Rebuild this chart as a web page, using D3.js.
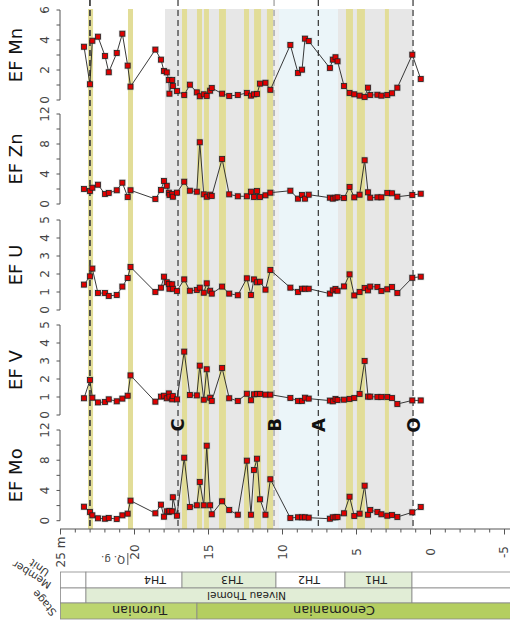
<!DOCTYPE html>
<html><head><meta charset="utf-8">
<script src="https://cdn.jsdelivr.net/npm/d3@7"></script>
<style>body{margin:0;background:#fff}svg{display:block;font-family:"DejaVu Sans",sans-serif}</style>
</head><body><svg id="c" width="510" height="623"></svg>
<script>
// ---- data ----
const depths = [23.41,23.01,22.85,22.47,21.99,21.74,21.20,20.82,20.46,20.27,
 18.59,18.21,18.01,17.82,17.68,17.64,17.45,17.41,17.13,16.64,
 16.26,15.79,15.59,15.32,15.12,14.89,14.78,14.08,13.60,13.02,
 12.41,12.13,11.93,11.72,11.52,11.15,10.82,9.47,8.95,8.68,
 8.48,8.23,6.80,6.60,6.42,6.28,5.84,5.47,5.15,4.79,
 4.45,4.22,4.07,3.59,3.32,2.92,2.60,2.24,1.23,0.66];
const efMn = [3.55,1.05,3.95,4.22,2.93,1.85,3.13,4.42,2.29,0.89,
 3.36,2.69,1.93,1.84,1.33,0.42,1.33,0.93,0.6,0.33,
 1.02,0.51,0.25,0.38,0.27,0.62,0.8,0.42,0.27,0.33,
 0.47,0.29,0.38,0.4,1.09,1.15,0.68,3.67,1.8,2.02,
 4.09,3.93,2.13,2.69,2.85,2.58,0.93,0.47,0.38,0.29,
 0.2,0.82,0.33,0.35,0.29,0.33,0.45,0.82,3.02,1.4];
const efZn = [2.0,1.73,2.17,2.57,1.33,1.47,1.83,2.84,0.93,1.83,
 0.67,1.87,3.07,2.43,1.51,1.2,1.33,0.97,1.51,2.97,
 1.77,1.64,8.23,1.29,0.97,1.24,1.07,6.0,1.29,1.03,
 1.03,1.64,0.93,1.73,0.93,1.16,1.51,1.77,0.71,1.2,
 0.71,1.24,0.84,0.71,0.84,0.89,0.8,2.27,0.89,1.24,
 5.83,1.56,0.84,0.89,0.89,1.47,1.43,0.97,1.2,1.37];
const efU = [1.41,1.87,2.3,0.94,0.94,0.78,0.83,1.3,1.78,2.39,
 1.0,1.24,1.85,1.54,1.44,1.18,1.43,1.18,1.06,1.7,
 1.07,1.11,1.24,0.96,1.48,1.07,0.91,1.3,0.91,0.82,
 1.76,0.83,1.7,1.54,1.57,1.13,2.22,1.24,1.0,1.18,
 1.18,1.18,0.91,1.09,1.17,1.07,1.31,1.98,0.81,1.0,
 1.22,1.09,1.3,1.28,1.06,1.15,1.28,0.94,1.79,1.85];
const efV = [0.93,1.94,0.96,0.7,0.72,0.87,0.76,0.91,1.07,2.2,
 0.74,1.02,1.07,0.93,1.2,1.02,0.87,1.05,0.87,3.52,
 1.11,1.09,2.74,0.85,2.54,0.96,0.78,2.61,0.93,0.78,
 1.18,0.82,1.15,1.17,1.17,1.13,1.13,0.94,0.78,0.78,
 0.96,0.91,0.8,0.76,0.89,0.83,0.85,0.89,0.94,1.17,
 3.0,1.02,1.02,1.0,1.0,1.0,0.94,0.61,0.81,0.81];
const efMo = [1.85,1.15,0.71,0.32,0.26,0.36,0.22,0.71,0.93,2.65,
 0.98,2.12,0.53,1.24,1.15,1.3,1.24,3.1,0.66,8.33,
 1.81,2.04,5.12,2.04,9.92,2.04,0.85,2.57,1.41,0.79,
 7.94,0.79,6.7,8.2,2.83,0.79,5.48,0.36,0.45,0.45,
 0.45,0.4,0.26,0.45,0.45,0.49,0.98,3.17,0.62,0.93,
 4.63,0.79,1.41,1.15,0.85,0.66,0.75,0.49,1.11,1.81];
const panelNames = ["EF Mn","EF Zn","EF U","EF V","EF Mo"];
const panelMax = [6,12,5,5,12];
const yellowBands = [[23.14,22.80],[20.44,20.10],[16.79,16.45],[15.78,15.44],[15.30,14.97],[14.29,13.82],
 [12.60,12.26],[11.92,11.45],[11.05,10.64],[5.71,5.24],[4.97,4.43],[3.08,2.81]];
const grayZone = [17.94,1.18];
const paleZone = [10.61,10.24];
const blueZone = [10.24,6.25];
const eventNames = ["","C","B","A","O"];
const eventDepths = [23.01,17.06,10.57,7.58,1.18];
const xTickLabels = ["25 m","20","15","10","5","0","-5"];
const xTickValues = [25,20,15,10,5,0,-5];
const unitNames = ["","TH4","TH3","TH2","TH1",""];
const unitTops = [25.0,23.28,16.79,10.44,5.78,1.25];
const unitBases = [23.28,16.79,10.44,5.78,1.25,-5.4];
const unitLabelDepths = [null,18.61,13.41,8.21,3.68,null];
const memberNames = ["","Niveau Thomel",""];
const memberTops = [25.0,23.28,1.25];
const memberBases = [23.28,1.25,-5.4];
const memberLabelDepths = [null,12.43,null];
const stageNames = ["Turonian","Cenomanian"];
const stageTops = [25.0,15.78];
const stageBases = [15.78,-5.4];
const stageLabelDepths = [19.66,6.52];
const rowNames = ["Unit","Member","Stage"];

// ---- layout ----
const svg = d3.select("#c");
const x = d3.scaleLinear().domain([25,-5]).range([60.5,504.5]);
const bgTop = 9, bgBot = 529;
const panels = [
  {top:10, bot:100, step:1, lab:2},
  {top:114, bot:204, step:2, lab:4},
  {top:220, bot:310, step:1, lab:1},
  {top:325, bot:415, step:1, lab:1},
  {top:430, bot:520.7, step:2, lab:4}
];
const series = [efMn, efZn, efU, efV, efMo];

// backgrounds
const bg = svg.append("g");
bg.append("rect").attr("x",x(grayZone[0])).attr("y",bgTop).attr("width",x(grayZone[1])-x(grayZone[0])).attr("height",bgBot-bgTop).attr("fill","#e7e7e7");
bg.append("rect").attr("x",x(paleZone[0])).attr("y",bgTop).attr("width",x(paleZone[1])-x(paleZone[0])).attr("height",bgBot-bgTop).attr("fill","#efefef");
bg.append("rect").attr("x",x(blueZone[0])).attr("y",bgTop).attr("width",x(blueZone[1])-x(blueZone[0])).attr("height",bgBot-bgTop).attr("fill","#ebf5f9");
bg.selectAll(".yb").data(yellowBands).join("rect").attr("x",d=>x(d[0])).attr("y",bgTop)
  .attr("width",d=>x(d[1])-x(d[0])).attr("height",bgBot-bgTop).attr("fill","#e2dd98");

// event dashed lines
eventDepths.forEach((d,i)=>{
  svg.append("line").attr("x1",x(d)).attr("x2",x(d)).attr("y1",0).attr("y2",bgBot)
    .attr("stroke", i===2 ? "#9a9a9a" : (i===0 ? "#444" : "#333"))
    .attr("stroke-width", i===0 ? 1.8 : 1.2).attr("stroke-dasharray","6,4");
  if(eventNames[i]) {
    svg.append("text").attr("transform",`translate(${x(d)},425) rotate(-90)`)
      .attr("text-anchor","middle").attr("dy","0.36em").attr("font-size",18).attr("font-weight","bold")
      .attr("fill","#111").text(eventNames[i]);
  }
});

// panels
panels.forEach((p,i)=>{
  const y = d3.scaleLinear().domain([0,panelMax[i]]).range([p.bot,p.top]);
  const g = svg.append("g");
  g.append("line").attr("x1",60).attr("x2",60).attr("y1",y(0)).attr("y2",y(panelMax[i])).attr("stroke","#555");
  const ticks = d3.range(0,panelMax[i]+0.001,p.step);
  g.selectAll(".t").data(ticks).join("line").attr("x1",56.5).attr("x2",60).attr("y1",d=>y(d)).attr("y2",d=>y(d)).attr("stroke","#555");
  g.selectAll(".l").data(ticks.filter(t=>Math.abs(t/p.lab-Math.round(t/p.lab))<1e-6)).join("text")
    .attr("transform",d=>`translate(45,${y(d)}) rotate(-90)`).attr("text-anchor","middle").attr("dy","0.35em")
    .attr("font-size",12).attr("fill","#444").text(d=>d);
  g.append("text").attr("transform",`translate(16,${(p.top+p.bot)/2}) rotate(-90)`).attr("text-anchor","middle")
    .attr("dy","0.36em").attr("font-size",18).attr("fill","#111").text(panelNames[i]);
  const pts = depths.map((d,k)=>[x(d),y(series[i][k])]);
  g.append("path").attr("d",d3.line()(pts)).attr("fill","none").attr("stroke","#222").attr("stroke-width",0.9);
  g.selectAll(".h").data(pts).join("rect").attr("x",d=>d[0]-3.6).attr("y",d=>d[1]-3.6).attr("width",7.2).attr("height",7.2)
    .attr("fill","#888").attr("opacity",0.3);
  g.selectAll(".p").data(pts).join("rect").attr("x",d=>d[0]-2.5).attr("y",d=>d[1]-2.5).attr("width",5).attr("height",5)
    .attr("fill","#e00000").attr("stroke","#222").attr("stroke-width",0.8);
});

// x axis
const ax = svg.append("g");
ax.append("line").attr("x1",60).attr("x2",510).attr("y1",bgBot).attr("y2",bgBot).attr("stroke","#555");
const minor = d3.range(25,-5.5,-1);
ax.selectAll(".mt").data(minor).join("line").attr("x1",d=>x(d)).attr("x2",d=>x(d)).attr("y1",bgBot)
  .attr("y2",d=>d%5===0?bgBot+5.5:bgBot+3.5).attr("stroke","#555");
ax.selectAll(".xl").data(xTickValues).join("text").attr("transform",d=>`translate(${Math.min(x(d),503.5)},552) rotate(-90)`)
  .attr("text-anchor","middle").attr("dy","0.36em").attr("font-size",12).attr("fill","#444").text((d,i)=>xTickLabels[i]);
// Q. g. marker
ax.append("text").attr("transform",`translate(${x(21.45)},559) rotate(180)`).attr("text-anchor","middle").attr("dy","0.35em")
  .attr("font-size",10).attr("fill","#444").text("Q. g.");
ax.append("line").attr("x1",x(20.45)).attr("x2",x(20.45)).attr("y1",553).attr("y2",565).attr("stroke","#555");

// bottom table
const tb = svg.append("g");
function row(tops,bases,names,labs,fills,y0,y1,fs){
  tops.forEach((t,i)=>{
    tb.append("rect").attr("x",x(t)).attr("y",y0).attr("width",x(bases[i])-x(t)).attr("height",y1-y0)
      .attr("fill",fills[i]).attr("stroke","#888").attr("stroke-width",0.8);
    if(names[i]) tb.append("text").attr("transform",`translate(${x(labs[i])},${(y0+y1)/2}) rotate(180)`)
      .attr("text-anchor","middle").attr("dy","0.36em").attr("font-size",fs).attr("fill","#222").text(names[i]);
  });
}
row(unitTops,unitBases,unitNames,unitLabelDepths,["#fff","#fff","#e1edd6","#fff","#e1edd6","#fff"],572,588,11);
row(memberTops,memberBases,memberNames,memberLabelDepths,["#fff","#e1edd6","#fff"],588,603,10.5);
row(stageTops,stageBases,stageNames,stageLabelDepths,["#bcd56f","#b4ce60"],603,619,13);
// row names (diagonal, upside-down)
const rowPos = [[50,571,-145],[52,583,-148],[57,612,-131]];
rowNames.forEach((n,i)=>{
  tb.append("text").attr("transform",`translate(${rowPos[i][0]},${rowPos[i][1]}) rotate(${rowPos[i][2]})`)
    .attr("text-anchor","start").attr("font-size",10.5).attr("fill","#333").text(n);
});
</script></body></html>
